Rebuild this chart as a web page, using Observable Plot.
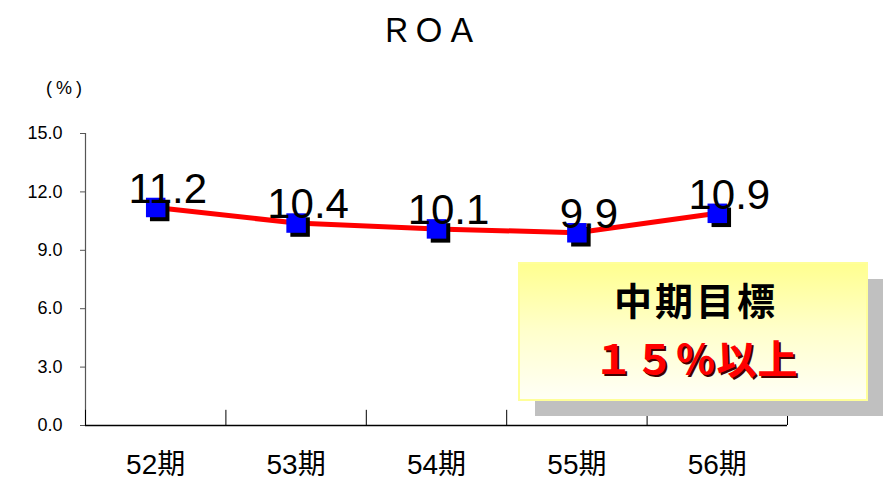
<!DOCTYPE html>
<html>
<head>
<meta charset="utf-8">
<script src="https://cdn.jsdelivr.net/npm/d3@7"></script>
<script src="https://cdn.jsdelivr.net/npm/@observablehq/plot@0.6"></script>
<style>
  body { margin: 0; background: #fff; }
  #wrap { position: relative; width: 886px; height: 487px; overflow: hidden; font-family: "Liberation Sans", Arial, "Noto Sans CJK JP", sans-serif; }
  #title { position: absolute; left: 0; width: 858px; top: 4px; text-align: center; font-family: "Noto Sans CJK JP", sans-serif; font-size: 33px; color: #000; }
  #unit { position: absolute; left: 46px; top: 78px; font-size: 18px; letter-spacing: 4px; color: #000; }
  #shadow { position: absolute; left: 535px; top: 279px; width: 348px; height: 137px; background: #c0c0c0; }
  #box { position: absolute; left: 518px; top: 262px; width: 346px; height: 135px; border: 2px solid #ffff99;
         background: linear-gradient(to bottom, #ffff90 0%, #ffffcc 50%, #fffff6 100%);
         font-family: "Noto Sans CJK JP", sans-serif; font-weight: bold; text-align: center; }
  #l1 { position: absolute; left: 0; right: 0; top: 16px; font-size: 38px; line-height: 1; color: #000; letter-spacing: 3px; padding-left: 6px; }
  #l2 { position: absolute; left: 0; right: 0; top: 73px; font-size: 40px; line-height: 1; color: #ff0000; letter-spacing: 1px; text-shadow: 2px 2px 0 #400000; padding-left: 6px; }
  svg { position: absolute; left: 0; top: 0; }
</style>
</head>
<body>
<div id="wrap"></div>
<script>
const periods = ["52期", "53期", "54期", "55期", "56期"];
const roa = [11.2, 10.4, 10.1, 9.9, 10.9];
const yTicks = [0, 3, 6, 9, 12, 15];
const titleText = "ＲＯＡ";
const unitText = "(%)";
const goalLine1 = "中期目標";
const goalLine2 = "１５％以上";

const data = periods.map((p, i) => ({i, period: p, value: roa[i]}));
const boundaries = d3.range(periods.length + 1).map(k => k - 0.5);

const chart = Plot.plot({
  width: 886,
  height: 487,
  marginTop: 133,
  marginBottom: 62,
  marginLeft: 85,
  marginRight: 99,
  style: {fontFamily: '"Liberation Sans", Arial, "Noto Sans CJK JP", sans-serif', background: "transparent", color: "#000"},
  x: {type: "linear", domain: [-0.5, periods.length - 0.5]},
  y: {domain: [0, 15]},
  marks: [
    Plot.axisY({ticks: yTicks, tickFormat: d => d.toFixed(1), tickSize: 5, tickPadding: 18, fontSize: 18, stroke: "#555", label: null}),
    Plot.axisX({ticks: d3.range(periods.length), tickFormat: i => periods[i], tickSize: 0, tickPadding: 29, fontSize: 28, label: null}),
    Plot.ruleX([-0.5], {y1: 0, y2: 15, stroke: "#555", strokeWidth: 1.2}),
    Plot.ruleX(boundaries, {x: d => d, y1: 0, y2: 0.78, stroke: "#000"}),
    Plot.ruleY([0], {stroke: "#000", strokeWidth: 1.5}),
    Plot.line(data, {x: "i", y: "value", stroke: "#ff0000", strokeWidth: 5}),
    Plot.dot(data, {x: "i", y: "value", symbol: "square", r: 11, fill: "#000", dx: 4, dy: 4}),
    Plot.dot(data, {x: "i", y: "value", symbol: "square", r: 11, fill: "#0000ff"}),
    Plot.text(data, {x: "i", y: "value", text: d => d.value.toFixed(1), fontSize: 42, fill: "#000", dx: 12, dy: -18, lineAnchor: "middle"})
  ]
});

const wrap = document.getElementById("wrap");
wrap.appendChild(chart);

const t = document.createElement("div"); t.id = "title"; t.textContent = titleText; wrap.appendChild(t);
const u = document.createElement("div"); u.id = "unit"; u.textContent = unitText; wrap.appendChild(u);
const sh = document.createElement("div"); sh.id = "shadow"; wrap.appendChild(sh);
const box = document.createElement("div"); box.id = "box";
const l1 = document.createElement("div"); l1.id = "l1"; l1.textContent = goalLine1;
const l2 = document.createElement("div"); l2.id = "l2"; l2.textContent = goalLine2;
box.appendChild(l1); box.appendChild(l2);
wrap.appendChild(box);
</script>
</body>
</html>
